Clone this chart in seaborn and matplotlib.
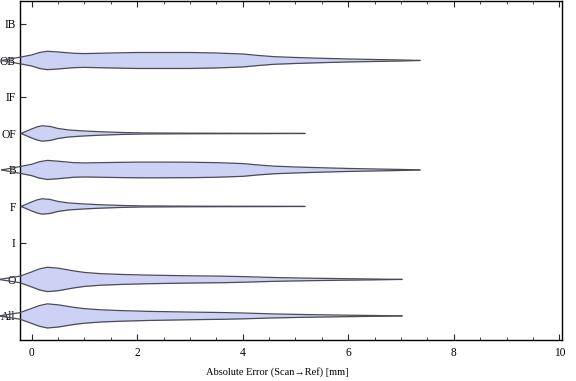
import matplotlib
matplotlib.use("Agg")
import matplotlib.pyplot as plt
import seaborn as sns
import pandas as pd
from matplotlib.ticker import MultipleLocator

# Categories (bottom to top)
categories = ["All", "O", "I", "F", "B", "OF", "IF", "OB", "IB"]

# Violin profiles: x positions and half-widths (density, in category units)
ob_x = [-0.57, -0.2, 0, 0.15, 0.3, 0.5, 0.8, 1.0, 1.5, 2.0, 2.5, 3.0, 3.5, 4.0, 4.3, 4.6, 5.0, 5.5, 6.0, 6.5, 7.0, 7.36]
ob_w = [0, 0.096, 0.151, 0.219, 0.252, 0.233, 0.197, 0.189, 0.205, 0.219, 0.219, 0.219, 0.205, 0.178, 0.137, 0.104, 0.082, 0.060, 0.041, 0.027, 0.014, 0]

b_x = [-0.57, -0.2, 0, 0.15, 0.3, 0.5, 0.8, 1.0, 1.5, 2.0, 2.5, 3.0, 3.5, 4.0, 4.3, 4.6, 5.0, 5.5, 6.0, 6.5, 7.0, 7.36]
b_w = [0, 0.098, 0.155, 0.225, 0.262, 0.240, 0.200, 0.192, 0.205, 0.215, 0.215, 0.212, 0.200, 0.175, 0.135, 0.104, 0.082, 0.060, 0.041, 0.027, 0.014, 0]

of_x = [-0.2, 0, 0.1, 0.2, 0.35, 0.5, 0.7, 1.0, 1.3, 1.7, 2.1, 3.0, 4.6, 5.18]
of_w = [0, 0.123, 0.178, 0.211, 0.192, 0.137, 0.096, 0.068, 0.047, 0.027, 0.014, 0.008, 0.004, 0]

f_x = [-0.2, 0, 0.1, 0.2, 0.35, 0.5, 0.7, 1.0, 1.3, 1.7, 2.1, 3.0, 4.6, 5.18]
f_w = [0, 0.123, 0.178, 0.211, 0.192, 0.137, 0.096, 0.068, 0.047, 0.027, 0.014, 0.008, 0.004, 0]

o_x = [-0.62, -0.22, 0, 0.15, 0.3, 0.5, 0.8, 1.0, 1.3, 1.7, 2.2, 3.0, 3.6, 4.0, 4.6, 5.2, 5.9, 6.5, 7.02]
o_w = [0, 0.09, 0.205, 0.288, 0.334, 0.31, 0.233, 0.192, 0.159, 0.137, 0.118, 0.099, 0.09, 0.077, 0.052, 0.036, 0.022, 0.011, 0]

all_x = [-0.62, -0.22, 0, 0.15, 0.3, 0.5, 0.8, 1.0, 1.3, 1.7, 2.2, 3.0, 3.6, 4.0, 4.6, 5.2, 5.9, 6.5, 7.02]
all_w = [0, 0.09, 0.205, 0.285, 0.330, 0.305, 0.235, 0.200, 0.168, 0.145, 0.125, 0.105, 0.093, 0.080, 0.054, 0.037, 0.022, 0.011, 0]

profiles = {
    "OB": (ob_x, ob_w),
    "B": (b_x, b_w),
    "OF": (of_x, of_w),
    "F": (f_x, f_w),
    "O": (o_x, o_w),
    "All": (all_x, all_w),
}

x_label = "Absolute Error (Scan\u2192Ref) [mm]"

sns.set_theme(style="ticks")
plt.rcParams["font.family"] = ["Liberation Serif", "DejaVu Serif"]

fill_color = "#cdd2f4"
edge_color = "#4b4b58"
text_color = "black"
fs = 8.3

fig = plt.figure(figsize=(5.76, 3.81), dpi=100)
ax = fig.add_axes([20 / 576, 1 - 340 / 381, 542 / 576, 339 / 381])

rows = []
for cat, (xs, ws) in profiles.items():
    pos = categories.index(cat) + 1
    upper = [pos + w for w in ws]
    lower = [pos - w for w in ws]
    ax.fill_between(xs, lower, upper, color=fill_color, linewidth=0, zorder=2)
    for x, u in zip(xs, upper):
        rows.append({"x": x, "y": u, "line": cat + "_u"})
    for x, l in zip(xs, lower):
        rows.append({"x": x, "y": l, "line": cat + "_l"})

df = pd.DataFrame(rows)
sns.lineplot(data=df, x="x", y="y", units="line", estimator=None, sort=False,
             color=edge_color, linewidth=0.9, ax=ax, clip_on=False, zorder=5)

ax.set_xlim(-0.22, 10.05)
ax.set_ylim(0.34, 9.63)
ax.set_yticks(range(1, len(categories) + 1))
ax.set_yticklabels(categories)
ax.xaxis.set_major_locator(MultipleLocator(2))
ax.xaxis.set_minor_locator(MultipleLocator(0.5))
ax.set_ylabel("")
ax.set_xlabel(x_label, fontsize=7.5, color=text_color)
ax.xaxis.set_label_coords(0.474, -0.08)

ax.tick_params(axis="x", which="major", direction="in", length=4, width=0.8,
               top=True, bottom=True, labelsize=fs, labelcolor=text_color, pad=5)
ax.tick_params(axis="x", which="minor", direction="in", length=2.2, width=0.6,
               top=True, bottom=True)
ax.tick_params(axis="y", which="major", direction="in", length=4, width=0.8,
               left=True, right=False, labelsize=fs, labelcolor=text_color, pad=3)

for s in ax.spines.values():
    s.set_visible(True)
    s.set_linewidth(1.0)
    s.set_color("black")
    s.set_zorder(4)

fig.savefig("out.png", dpi=100)
